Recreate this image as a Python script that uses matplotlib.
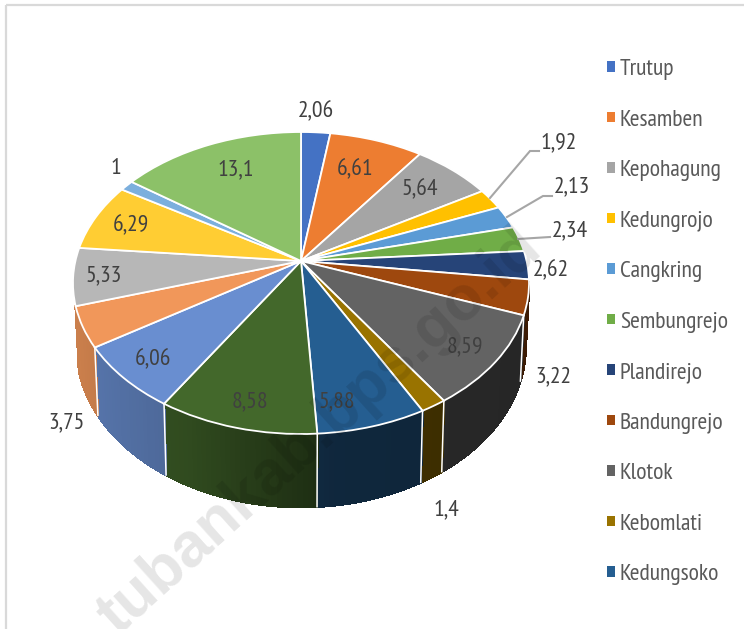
import numpy as np
import matplotlib
matplotlib.use("Agg")
import matplotlib.pyplot as plt
from matplotlib.patches import Patch, Rectangle
from matplotlib.collections import PolyCollection
from matplotlib.transforms import Transform
from matplotlib.colors import to_rgb
import logging
logging.getLogger("matplotlib.font_manager").setLevel(logging.ERROR)

categories = ["Trutup", "Kesamben", "Kepohagung", "Kedungrojo", "Cangkring", "Sembungrejo",
              "Plandirejo", "Bandungrejo", "Klotok", "Kebomlati", "Kedungsoko"]
values = [2.06, 6.61, 5.64, 1.92, 2.13, 2.34, 2.62, 3.22, 8.59, 1.4, 5.88,
          8.58, 6.06, 3.75, 5.33, 6.29, 1, 13.1]
colors = ["#4472C4", "#ED7D31", "#A5A5A5", "#FFC000", "#5B9BD5", "#70AD47", "#264478", "#9E480E",
          "#636363", "#997300", "#255E91", "#43682B", "#698ED0", "#F1975A", "#B7B7B7", "#FFCD33",
          "#7CAFDD", "#8CC168"]
label_xy = [(316, 112), (355, 170), (420, 190), (559, 143), (572, 187), (570, 231), (551, 271),
            (553, 377), (465, 347), (446, 510), (337, 402), (250, 402), (153, 360), (66, 423),
            (104, 276), (131, 226), (116, 168), (236, 170)]
leaders = [[(490, 198), (530, 151), (539, 151)],
           [(507, 217), (543, 196), (552, 196)],
           [(518, 239), (550, 237)]]

CX, CY, R, S, K, DEPTH = 301.0, 261.0, 225.6, 147.8, 0.1457, 62.4


def project(x, y, bottom=False):
    w = 1 + K * np.asarray(y)
    scale = 0.985 if bottom else 1.0
    px = CX + scale * R * np.asarray(x) / w
    py = CY - S * np.asarray(y) / w + (DEPTH / w if bottom else 0)
    return px, py


class Perspective(Transform):
    input_dims = output_dims = 2

    def transform_non_affine(self, values):
        v = np.asarray(values)
        px, py = project(v[:, 0], v[:, 1])
        return np.column_stack([px, py])


plt.rcParams["font.family"] = ["PT Sans Narrow", "Roboto Condensed", "Lato", "DejaVu Sans"]

fig = plt.figure(figsize=(7.44, 6.29), dpi=100)
ax = fig.add_axes([0, 0, 1, 1])
wedges, _ = ax.pie(values, colors=colors, startangle=90, counterclock=False,
                   wedgeprops=dict(edgecolor="white", linewidth=1.3, zorder=3))
persp = Perspective()
for w in wedges:
    w.set_transform(persp + ax.transData)
ax.set_aspect("auto")
ax.set_xlim(0, 744)
ax.set_ylim(629, 0)
ax.axis("off")

# frame
ax.add_patch(Rectangle((6, 5), 800, 700, fill=False, edgecolor="#D9D9D9", linewidth=1.6,
                       zorder=0, clip_on=True))

# side wall
edges = np.cumsum([0] + values) / sum(values) * 2 * np.pi
quads, qcols = [], []
for i, c in enumerate(colors):
    n = max(2, int((edges[i + 1] - edges[i]) / 0.02))
    th = np.linspace(edges[i], edges[i + 1], n + 1)
    for a, b in zip(th[:-1], th[1:]):
        xa, ya, xb, yb = np.sin(a), np.cos(a), np.sin(b), np.cos(b)
        xm = (xa + xb) / 2
        limit = -0.28 if xm < 0 else -K + 0.02
        if max(ya, yb) > limit:
            continue
        f = np.interp(xm, [-1, -0.45, 0.1, 1], [0.85, 0.72, 0.42, 0.38])
        p1, p2 = project(xa, ya), project(xb, yb)
        p3, p4 = project(xb, yb, True), project(xa, ya, True)
        quads.append([p1, p2, p3, p4])
        qcols.append(tuple(np.array(to_rgb(c)) * f))
ax.add_collection(PolyCollection(quads, facecolors=qcols, edgecolors=qcols, linewidths=1.2,
                                 antialiaseds=False, zorder=1))
for e in edges:
    x, y = np.sin(e), np.cos(e)
    if y < -0.3:
        p, q = project(x, y), project(x, y, True)
        ax.plot([p[0], q[0]], [p[1], q[1]], color="white", lw=1.1, zorder=2)

# leader lines
for pts in leaders:
    xs, ys = zip(*pts)
    ax.plot(xs, ys, color="#A6A6A6", lw=1.5, zorder=4, solid_joinstyle="miter")

# data labels
for v, (x, y) in zip(values, label_xy):
    ax.text(x, y, f"{v:g}".replace(".", ","), ha="center", va="center", fontsize=17,
            color="#404040", zorder=5)

# legend
handles = [Patch(facecolor=c, edgecolor="none", label=n) for c, n in zip(colors, categories)]
leg = ax.legend(handles=handles, loc="upper left", bbox_to_anchor=(607 / 744, 1 - 59 / 629),
                bbox_transform=fig.transFigure, frameon=False, fontsize=17, labelcolor="#595959",
                handlelength=0.32, handleheight=0.32, handletextpad=0.22, labelspacing=1.25,
                borderpad=0, borderaxespad=0)

# watermark
ax.text(320, 432, "tubankab.bps.go.id", rotation=42, rotation_mode="anchor", ha="center", va="center",
        fontsize=45, fontweight="bold", family=["Liberation Sans"], color="black", alpha=0.10, zorder=6,
        clip_on=True)

fig.savefig("out.png", dpi=100)
